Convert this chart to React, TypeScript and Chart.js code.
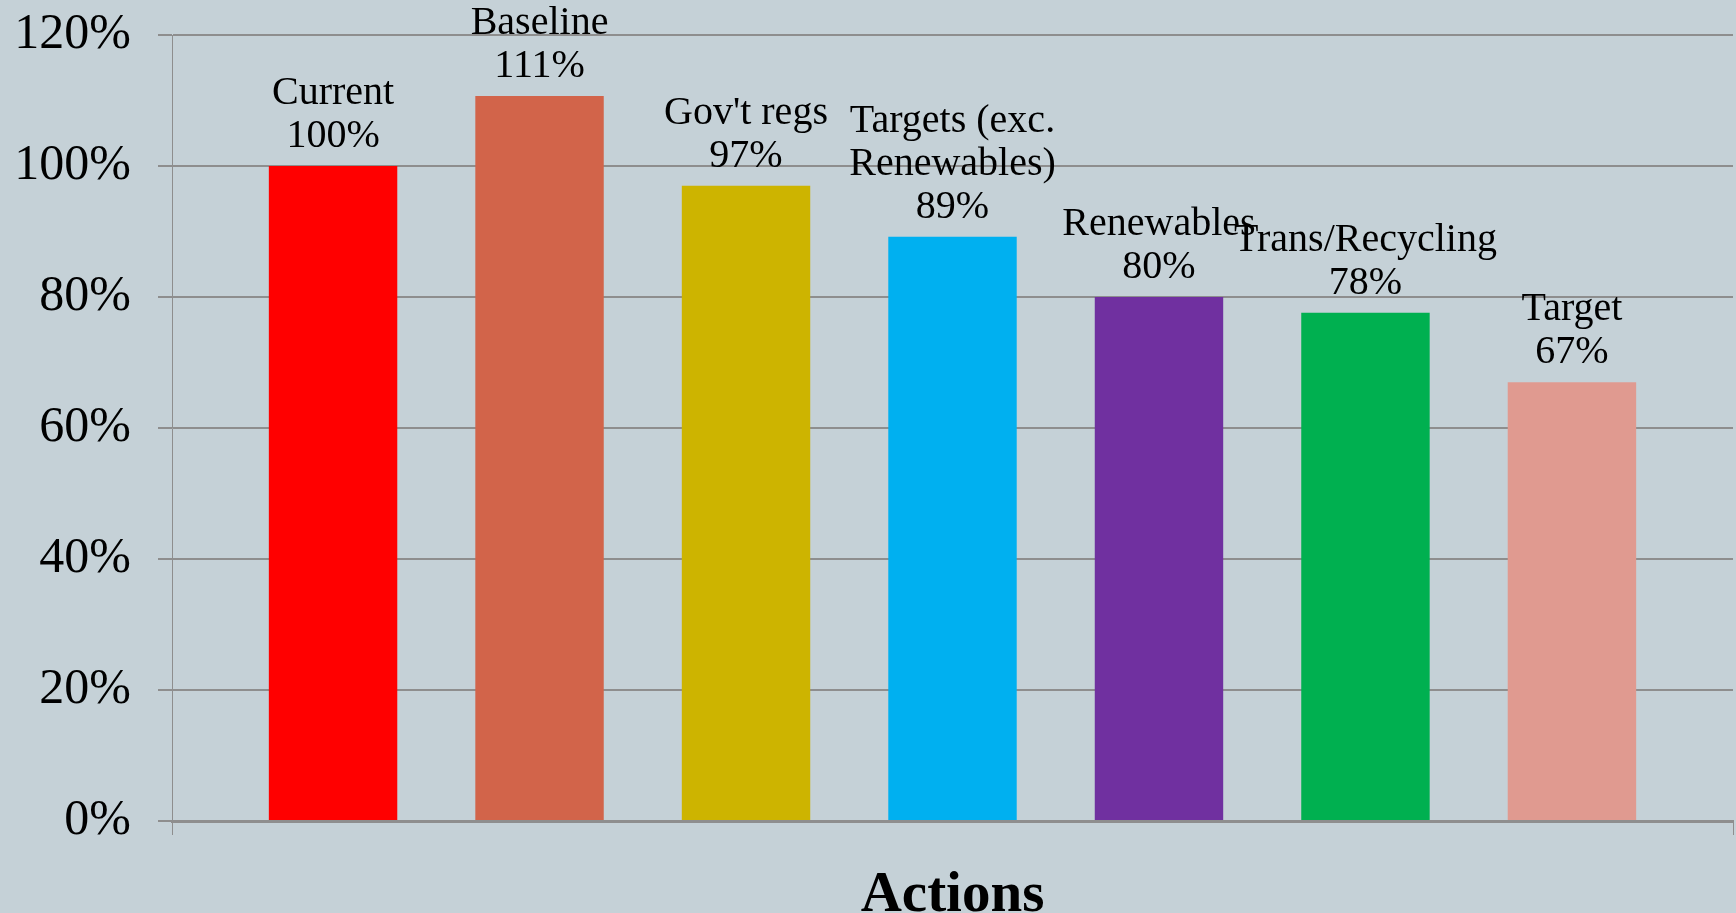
import React, { useEffect, useRef } from "react";
import { Chart, registerables } from "chart.js";

Chart.register(...registerables);

const categories: string[][] = [
  ["Current"],
  ["Baseline"],
  ["Gov't regs"],
  ["Targets (exc.", "Renewables)"],
  ["Renewables"],
  ["Trans/Recycling"],
  ["Target"],
];
const positions: number[] = [0, 1, 2, 3, 4, 5, 6];
const values: number[] = [100, 110.7, 97, 89.2, 80, 77.6, 67];
const valueLabels: string[] = ["100%", "111%", "97%", "89%", "80%", "78%", "67%"];
const barColors: string[] = ["#FF0000", "#D2644A", "#CDB400", "#00B0F0", "#7030A0", "#00B050", "#E09A90"];
const yTicks: number[] = [0, 20, 40, 60, 80, 100, 120];
const xRange: number[] = [-0.78, 6.78];
const axisTitle = "Actions";

const BG = "#C5D1D7";
const GRID = "#8E8E8E";
const SERIF = "'Liberation Serif', 'Times New Roman', serif";

const labelPlugin = {
  id: "barLabels",
  afterDatasetsDraw(chart: any) {
    const ctx = chart.ctx;
    const meta = chart.getDatasetMeta(0);
    ctx.save();
    ctx.font = `40px ${SERIF}`;
    ctx.fillStyle = "#000000";
    ctx.textAlign = "center";
    ctx.textBaseline = "alphabetic";
    meta.data.forEach((bar: any, i: number) => {
      const lines = [...categories[i], valueLabels[i]];
      const n = lines.length;
      lines.forEach((line, j) => {
        const y = bar.y - 19 - (n - 1 - j) * 43;
        ctx.fillText(line, bar.x, y);
      });
    });
    ctx.restore();
  },
};

const endTicksPlugin = {
  id: "endTicks",
  afterDraw(chart: any) {
    const ctx = chart.ctx;
    const xs = chart.scales.x;
    const bottom = chart.chartArea.bottom;
    ctx.save();
    ctx.strokeStyle = GRID;
    ctx.lineWidth = 1;
    xRange.forEach((v) => {
      const px = Math.round(xs.getPixelForValue(v)) + 0.5;
      ctx.beginPath();
      ctx.moveTo(px, bottom);
      ctx.lineTo(px, bottom + 14);
      ctx.stroke();
    });
    ctx.restore();
  },
};

const bgPlugin = {
  id: "bg",
  beforeDraw(chart: any) {
    const ctx = chart.ctx;
    ctx.save();
    ctx.fillStyle = BG;
    ctx.fillRect(0, 0, chart.width, chart.height);
    ctx.restore();
  },
};

export default function App() {
  const ref = useRef<HTMLCanvasElement | null>(null);
  useEffect(() => {
    document.body.style.margin = "0";
    document.body.style.background = BG;
    if (!ref.current) return;
    const chart = new Chart(ref.current, {
      type: "bar",
      data: {
        datasets: [
          {
            data: positions.map((p, i) => ({ x: p, y: values[i] })),
            backgroundColor: barColors,
            borderWidth: 0,
            categoryPercentage: 1,
            barPercentage: 0.622,
          },
        ],
      },
      options: {
        animation: false,
        responsive: false,
        devicePixelRatio: 1,
        layout: { padding: { top: 35, right: 3, bottom: 0, left: 0 } },
        plugins: {
          legend: { display: false },
          tooltip: { enabled: false },
          title: { display: false },
        },
        scales: {
          x: {
            type: "linear",
            min: xRange[0],
            max: xRange[1],
            offset: false,
            afterBuildTicks: (scale: any) => {
              scale.ticks = xRange.map((v) => ({ value: v }));
            },
            ticks: { display: false },
            grid: { display: false },
            border: { display: true, color: GRID, width: 3 },
            title: {
              display: true,
              text: axisTitle,
              font: { family: SERIF, size: 57, weight: "bold", lineHeight: 34 / 57 },
              color: "#000000",
              padding: { top: 0, bottom: 0 },
            },
            afterFit: (scale: any) => {
              scale.height = 92;
              scale.paddingLeft = 0;
              scale.paddingRight = 0;
            },
          },
          y: {
            min: 0,
            max: 120,
            afterBuildTicks: (scale: any) => {
              scale.ticks = yTicks.map((v) => ({ value: v }));
            },
            ticks: {
              stepSize: 20,
              padding: 27,
              color: "#000000",
              font: { family: SERIF, size: 50 },
              callback: (v: any) => `${v}%`,
            },
            grid: {
              color: GRID,
              lineWidth: 2,
              tickLength: 14,
              drawTicks: true,
            },
            border: { display: true, color: GRID, width: 1 },
            afterFit: (scale: any) => {
              scale.width = 172;
              scale.paddingTop = 0;
              scale.paddingBottom = 0;
            },
          },
        },
      },
      plugins: [bgPlugin, labelPlugin, endTicksPlugin],
    });
    return () => chart.destroy();
  }, []);
  return (
    <div style={{ position: "absolute", left: 0, top: 0, width: 1736, height: 913, background: BG }}>
      <canvas ref={ref} width={1736} height={913} />
    </div>
  );
}
